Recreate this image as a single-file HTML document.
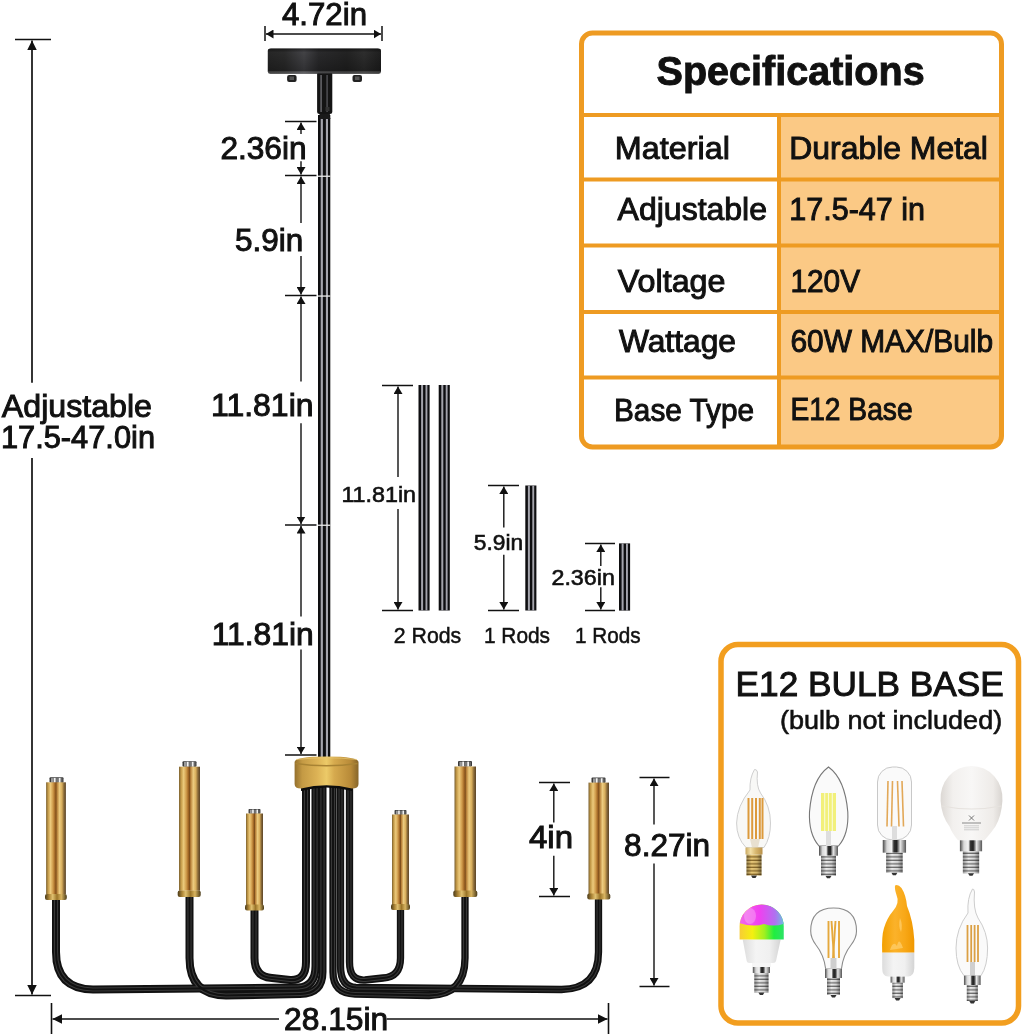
<!DOCTYPE html>
<html><head><meta charset="utf-8">
<style>
html,body{margin:0;padding:0;background:#fff;width:1024px;height:1035px;overflow:hidden}
svg{position:absolute;left:0;top:0;display:block;will-change:transform}
text{font-family:"Liberation Sans",sans-serif;fill:#111}
.b{font-weight:bold}
</style></head><body>
<svg width="1024" height="1035" viewBox="0 0 1024 1035">
<defs>
  <marker id="ah" viewBox="0 0 7.5 9" refX="7.5" refY="4.5" markerWidth="7.5" markerHeight="9" orient="auto-start-reverse" markerUnits="userSpaceOnUse">
    <path d="M0,0 L7.5,4.5 L0,9 z" fill="#111"/>
  </marker>
  <marker id="ahL" viewBox="0 0 9.5 9.5" refX="9.5" refY="4.75" markerWidth="9.5" markerHeight="9.5" orient="auto-start-reverse" markerUnits="userSpaceOnUse">
    <path d="M0,0 L9.5,4.75 L0,9.5 z" fill="#111"/>
  </marker>
</defs>
<rect width="1024" height="1035" fill="#fff"/>


<!-- CHANDELIER -->
<defs>
  <linearGradient id="brass" x1="0" x2="1" y1="0" y2="0">
    <stop offset="0" stop-color="#7a6030"/>
    <stop offset="0.1" stop-color="#c49a48"/>
    <stop offset="0.22" stop-color="#ecca7c"/>
    <stop offset="0.35" stop-color="#cf9a4a"/>
    <stop offset="0.45" stop-color="#a06524"/>
    <stop offset="0.5" stop-color="#80501c"/>
    <stop offset="0.56" stop-color="#ba843c"/>
    <stop offset="0.68" stop-color="#eccc80"/>
    <stop offset="0.8" stop-color="#d8ae5c"/>
    <stop offset="0.9" stop-color="#8a6a38"/>
    <stop offset="1" stop-color="#5a4428"/>
  </linearGradient>
  <linearGradient id="ring" x1="0" x2="1" y1="0" y2="0">
    <stop offset="0" stop-color="#4a3a18"/>
    <stop offset="0.2" stop-color="#b08838"/>
    <stop offset="0.35" stop-color="#e0c070"/>
    <stop offset="0.55" stop-color="#9a7428"/>
    <stop offset="0.75" stop-color="#d8b460"/>
    <stop offset="1" stop-color="#4a3a18"/>
  </linearGradient>
  <linearGradient id="hubg" x1="0" x2="1" y1="0" y2="0">
    <stop offset="0" stop-color="#94702c"/>
    <stop offset="0.12" stop-color="#c49a44"/>
    <stop offset="0.35" stop-color="#dcb255"/>
    <stop offset="0.5" stop-color="#ecca68"/>
    <stop offset="0.62" stop-color="#d6aa4e"/>
    <stop offset="0.88" stop-color="#b88a38"/>
    <stop offset="1" stop-color="#86652a"/>
  </linearGradient>
  <linearGradient id="canopyh" x1="0" x2="1" y1="0" y2="0">
    <stop offset="0" stop-color="#2a2a2a"/>
    <stop offset="0.15" stop-color="#303030"/>
    <stop offset="0.32" stop-color="#4a4a4e"/>
    <stop offset="0.45" stop-color="#2e2e30"/>
    <stop offset="0.7" stop-color="#262626"/>
    <stop offset="0.85" stop-color="#333"/>
    <stop offset="1" stop-color="#222"/>
  </linearGradient>
  <linearGradient id="canopyv" x1="0" x2="0" y1="0" y2="1">
    <stop offset="0" stop-color="#000" stop-opacity="0.5"/>
    <stop offset="0.15" stop-color="#000" stop-opacity="0.1"/>
    <stop offset="0.6" stop-color="#000" stop-opacity="0.25"/>
    <stop offset="0.88" stop-color="#000" stop-opacity="0.35"/>
    <stop offset="0.95" stop-color="#fff" stop-opacity="0.12"/>
    <stop offset="1" stop-color="#000" stop-opacity="0.2"/>
  </linearGradient>
  <g id="cap">
    <rect x="-7" y="0" width="14" height="5.5" rx="1" fill="#3a3a3a"/>
    <rect x="-5.5" y="0.8" width="2.4" height="4.7" fill="#9a9a9a"/>
    <rect x="-2.8" y="0.6" width="2" height="4.9" fill="#f4f4f4"/>
    <rect x="-0.4" y="0.8" width="2.4" height="4.7" fill="#777"/>
    <rect x="2.2" y="0.6" width="2" height="4.9" fill="#f0f0f0"/>
    <rect x="4.4" y="0.8" width="1.6" height="4.7" fill="#666"/>
  </g>
</defs>
<g id="chandelier">
  <!-- arms -->
  <g fill="none" stroke-linejoin="round">
    <g id="armsL" fill="none" stroke-linejoin="round">
      <path id="a3" d="M254.5,905 V958 Q254.5,977 272,978 L290,980 Q306,981 306,962 V785"/>
      <path id="a1" d="M56,895 V952 Q56,989 93,989.5 L298,987.5 Q315.5,987 315.5,966 V785"/>
      <path id="a2" d="M189.5,893 V958 Q189.5,995 226,995.5 L300,994 Q322.5,993.5 322.5,972 V785"/>
    </g>
    <g id="armsR" fill="none" stroke-linejoin="round">
      <path d="M400.5,905 V958 Q400.5,977 383,978 L365,980 Q349.5,981 349.5,962 V785"/>
      <path d="M598.5,895 V952 Q598.5,989 561.5,989.5 L356,987.5 Q340.5,987 340.5,966 V785"/>
      <path d="M465,893 V958 Q465,995 429,995.5 L355,994 Q333,993.5 333,972 V785"/>
    </g>
  </g>
  <use href="#armsL" stroke="#111" stroke-width="8"/>
  <use href="#armsL" stroke="#3a3a3a" stroke-width="4.2"/>
  <use href="#armsL" stroke="#111" stroke-width="2.1"/>
  <use href="#armsR" stroke="#111" stroke-width="7.3"/>
  <use href="#armsR" stroke="#3a3a3a" stroke-width="3.9"/>
  <use href="#armsR" stroke="#111" stroke-width="1.9"/>

  <!-- candles -->
  <g>
    <use href="#cap" x="56.5" y="777.3"/>
    <rect x="46.1" y="782.3" width="19.8" height="112" fill="url(#brass)"/>
    <rect x="45" y="894" width="21.8" height="6" rx="2" fill="url(#ring)"/>

    <use href="#cap" x="189.5" y="761.2"/>
    <rect x="179" y="766.7" width="21" height="124" fill="url(#brass)"/>
    <rect x="177.7" y="890.5" width="23" height="6.5" rx="2" fill="url(#ring)"/>

    <use href="#cap" x="254.5" y="809" transform="translate(254.5 809) scale(0.85) translate(-254.5 -809)"/>
    <rect x="246" y="813.5" width="17" height="92" fill="url(#brass)"/>
    <rect x="245" y="904.5" width="19" height="6" rx="2" fill="url(#ring)"/>

    <use href="#cap" x="400.5" y="810" transform="translate(400.5 810) scale(0.85) translate(-400.5 -810)"/>
    <rect x="392" y="814.5" width="17" height="90.5" fill="url(#brass)"/>
    <rect x="391" y="904" width="19" height="6" rx="2" fill="url(#ring)"/>

    <use href="#cap" x="465" y="761"/>
    <rect x="454.5" y="766.5" width="21.5" height="125" fill="url(#brass)"/>
    <rect x="453.3" y="890.5" width="24" height="6.5" rx="2" fill="url(#ring)"/>

    <use href="#cap" x="598.5" y="777.6"/>
    <rect x="588.5" y="782.6" width="20.5" height="112" fill="url(#brass)"/>
    <rect x="587.3" y="893.5" width="23" height="6" rx="2" fill="url(#ring)"/>
  </g>

  <!-- main rod -->
  <g>
    <rect x="318" y="115" width="12.3" height="645" fill="#0e0e10"/>
    <rect x="320.7" y="115" width="2.2" height="645" fill="#a4a4ac"/>
    <rect x="325.9" y="115" width="2.1" height="645" fill="#a4a4ac"/>
    <rect x="318" y="175.6" width="12.3" height="1.3" fill="#e8e8e8"/>
    <rect x="318" y="295.4" width="12.3" height="1.3" fill="#e8e8e8"/>
    <rect x="318" y="524.6" width="12.3" height="1.3" fill="#e8e8e8"/>
    <!-- stem -->
    <path d="M319,112 L330.5,112 L329.5,116 L330.5,119 L319,119 L319.8,116 Z" fill="#1a1a1a"/>
    <rect x="317.1" y="72" width="15.2" height="42" rx="2.5" fill="#141414"/>
    <rect x="320.2" y="75" width="1.8" height="37" fill="#5a5a5e"/>
    <rect x="326.3" y="75" width="1.6" height="37" fill="#4a4a4e"/>
    <rect x="325.5" y="107" width="4" height="4" fill="#333"/>
    <!-- canopy -->
    <path d="M267.8,51 Q267.8,48.6 271,48.6 L377.8,48.6 Q381,48.6 381,51 L381,71.5 Q381,73.8 378.5,73.8 L270.3,73.8 Q267.8,73.8 267.8,71.5 Z" fill="url(#canopyh)"/>
    <path d="M267.8,51 Q267.8,48.6 271,48.6 L377.8,48.6 Q381,48.6 381,51 L381,71.5 Q381,73.8 378.5,73.8 L270.3,73.8 Q267.8,73.8 267.8,71.5 Z" fill="url(#canopyv)"/>
    <rect x="287.1" y="75" width="9.5" height="7" rx="2" fill="#222"/>
    <rect x="289.5" y="76.5" width="4.5" height="3.5" fill="#555"/>
    <rect x="352.5" y="75" width="9.5" height="7" rx="2" fill="#222"/>
    <rect x="355" y="76.5" width="4.5" height="3.5" fill="#555"/>
    <!-- hub -->
    <path d="M301,791 Q326.5,784 352,791 L352,783 L301,783 Z" fill="#0c0c0c"/>
    <path d="M294.6,762 Q294.6,756.4 326.5,756.4 Q358.5,756.4 358.5,762 V784 Q358.5,788.6 352,788.6 Q326.5,782 301,788.6 Q294.6,788.6 294.6,784 Z" fill="url(#hubg)"/>
    <path d="M295.5,763.5 Q326.5,768 357.5,763.5" fill="none" stroke="#a88334" stroke-width="1.3"/>
    <path d="M296,759.5 Q326.5,756 357,759.5" fill="none" stroke="#e8c870" stroke-width="1" opacity="0.7"/>
  </g>
</g>


<!-- LOOSE RODS -->
<defs>
  <g id="rodpat">
    <rect x="0" y="0" width="11.2" height="1" fill="#111"/>
  </g>
</defs>
<g id="loose">
<g>
<rect x="418.5" y="385" width="11.1" height="225.5" fill="#0e0e10"/>
<rect x="421.1" y="385" width="2.0" height="225.5" fill="#a4a4ac"/>
<rect x="425.5" y="385" width="1.9" height="225.5" fill="#a4a4ac"/>
<rect x="438.7" y="385" width="11.1" height="225.5" fill="#0e0e10"/>
<rect x="441.3" y="385" width="2.0" height="225.5" fill="#a4a4ac"/>
<rect x="445.7" y="385" width="1.9" height="225.5" fill="#a4a4ac"/>
<rect x="525.3" y="485.5" width="11.1" height="125" fill="#0e0e10"/>
<rect x="527.9" y="485.5" width="2.0" height="125" fill="#a4a4ac"/>
<rect x="532.3" y="485.5" width="1.9" height="125" fill="#a4a4ac"/>
<rect x="619" y="543.4" width="11.1" height="67.2" fill="#0e0e10"/>
<rect x="621.6" y="543.4" width="2.0" height="67.2" fill="#a4a4ac"/>
<rect x="626.0" y="543.4" width="1.9" height="67.2" fill="#a4a4ac"/>
</g>
</g>

<!-- DIMENSIONS -->
<g id="dims" stroke="#111" fill="none">
<line x1="265" y1="26" x2="265" y2="41" stroke-width="1.5"/>
<line x1="382" y1="26" x2="382" y2="41" stroke-width="1.5"/>
<line x1="266" y1="34" x2="381" y2="34" stroke-width="1.6" marker-start="url(#ah)" marker-end="url(#ah)"/>
<line x1="15" y1="39.5" x2="51" y2="39.5" stroke-width="1.6"/>
<line x1="15" y1="995.5" x2="51" y2="995.5" stroke-width="1.6"/>
<line x1="32" y1="40.5" x2="32" y2="382.7" stroke-width="1.7" marker-start="url(#ahL)"/>
<line x1="32" y1="458" x2="32" y2="994.5" stroke-width="1.7" marker-end="url(#ahL)"/>
<line x1="51.5" y1="1003" x2="51.5" y2="1034" stroke-width="1.6"/>
<line x1="608.5" y1="1003" x2="608.5" y2="1034" stroke-width="1.6"/>
<line x1="52.5" y1="1019" x2="279" y2="1019" stroke-width="1.6" marker-start="url(#ahL)"/>
<line x1="386.7" y1="1019" x2="607.5" y2="1019" stroke-width="1.6" marker-end="url(#ahL)"/>
<line x1="285" y1="121.5" x2="316.5" y2="121.5" stroke-width="1.5"/>
<line x1="285" y1="175.5" x2="316.5" y2="175.5" stroke-width="1.5"/>
<line x1="285" y1="295.5" x2="316.5" y2="295.5" stroke-width="1.5"/>
<line x1="285" y1="525" x2="316.5" y2="525" stroke-width="1.5"/>
<line x1="285" y1="755" x2="316.5" y2="755" stroke-width="1.5"/>
<line x1="301" y1="122.5" x2="301" y2="134" stroke-width="1.4" marker-start="url(#ah)"/>
<line x1="301" y1="161.2" x2="301" y2="174.5" stroke-width="1.4" marker-end="url(#ah)"/>
<line x1="301" y1="176.5" x2="301" y2="223" stroke-width="1.4" marker-start="url(#ah)"/>
<line x1="301" y1="255.9" x2="301" y2="294.5" stroke-width="1.4" marker-end="url(#ah)"/>
<line x1="301" y1="296.5" x2="301" y2="381.6" stroke-width="1.4" marker-start="url(#ah)"/>
<line x1="301" y1="423.3" x2="301" y2="524" stroke-width="1.4" marker-end="url(#ah)"/>
<line x1="301" y1="526" x2="301" y2="616.5" stroke-width="1.4" marker-start="url(#ah)"/>
<line x1="301" y1="649.6" x2="301" y2="754" stroke-width="1.4" marker-end="url(#ah)"/>
<line x1="382" y1="385.5" x2="413" y2="385.5" stroke-width="1.5"/>
<line x1="382" y1="610.5" x2="413" y2="610.5" stroke-width="1.5"/>
<line x1="398" y1="386.5" x2="398" y2="477" stroke-width="1.4" marker-start="url(#ah)"/>
<line x1="398" y1="509" x2="398" y2="609.5" stroke-width="1.4" marker-end="url(#ah)"/>
<line x1="488" y1="485.5" x2="519" y2="485.5" stroke-width="1.5"/>
<line x1="488" y1="610.5" x2="519" y2="610.5" stroke-width="1.5"/>
<line x1="503.8" y1="486.5" x2="503.8" y2="527.5" stroke-width="1.4" marker-start="url(#ah)"/>
<line x1="503.8" y1="554.7" x2="503.8" y2="609.5" stroke-width="1.4" marker-end="url(#ah)"/>
<line x1="585" y1="543.5" x2="615" y2="543.5" stroke-width="1.5"/>
<line x1="585" y1="610.5" x2="615" y2="610.5" stroke-width="1.5"/>
<line x1="600.8" y1="544.5" x2="600.8" y2="566" stroke-width="1.4" marker-start="url(#ah)"/>
<line x1="600.8" y1="587.2" x2="600.8" y2="609.5" stroke-width="1.4" marker-end="url(#ah)"/>
<line x1="539" y1="782.5" x2="570" y2="782.5" stroke-width="1.5"/>
<line x1="539" y1="896.5" x2="570" y2="896.5" stroke-width="1.5"/>
<line x1="553.8" y1="783.5" x2="553.8" y2="822.5" stroke-width="1.4" marker-start="url(#ah)"/>
<line x1="553.8" y1="855.7" x2="553.8" y2="895.5" stroke-width="1.4" marker-end="url(#ah)"/>
<line x1="639.5" y1="777.5" x2="669.5" y2="777.5" stroke-width="1.5"/>
<line x1="639.5" y1="986.5" x2="669.5" y2="986.5" stroke-width="1.5"/>
<line x1="654" y1="778.5" x2="654" y2="824.5" stroke-width="1.4" marker-start="url(#ah)"/>
<line x1="654" y1="863.5" x2="654" y2="985.5" stroke-width="1.4" marker-end="url(#ah)"/>
</g>

<!-- SPEC TABLE -->
<g id="table">
  <rect x="778" y="115" width="223" height="330" fill="#FBC985"/>
  <rect x="581.5" y="33" width="420" height="414" rx="11" fill="none" stroke="#EE9B22" stroke-width="5"/>
  <g stroke="#EE9B22" stroke-width="4">
    <line x1="582" y1="115" x2="1001" y2="115"/>
    <line x1="582" y1="179.5" x2="1001" y2="179.5"/>
    <line x1="582" y1="245.5" x2="1001" y2="245.5"/>
    <line x1="582" y1="312" x2="1001" y2="312"/>
    <line x1="582" y1="377.5" x2="1001" y2="377.5"/>
    <line x1="779" y1="115" x2="779" y2="445"/>
  </g>
</g>

<!-- BULB BOX -->
<g id="bulbbox">
  <rect x="721" y="644.5" width="297.5" height="378.5" rx="17" fill="#fff" stroke="#F29E1F" stroke-width="5.5"/>
</g>


<!-- BULBS START -->
<defs>
  <linearGradient id="chrome" x1="0" x2="1" y1="0" y2="0">
    <stop offset="0" stop-color="#4a4a4a"/>
    <stop offset="0.18" stop-color="#d8d8d8"/>
    <stop offset="0.38" stop-color="#f4f4f4"/>
    <stop offset="0.48" stop-color="#333"/>
    <stop offset="0.6" stop-color="#222"/>
    <stop offset="0.75" stop-color="#e8e8e8"/>
    <stop offset="1" stop-color="#555"/>
  </linearGradient>
  <linearGradient id="chromeg" x1="0" x2="1" y1="0" y2="0">
    <stop offset="0" stop-color="#c9a860"/>
    <stop offset="0.3" stop-color="#f3e0a8"/>
    <stop offset="0.6" stop-color="#d8b870"/>
    <stop offset="1" stop-color="#b89048"/>
  </linearGradient>
  <pattern id="thread" x="0" y="0" width="10" height="3.5" patternUnits="userSpaceOnUse">
    <rect width="10" height="3.5" fill="#ececec"/>
    <rect y="2.2" width="10" height="1.3" fill="#6e6e6e"/>
  </pattern>
  <pattern id="threadg" x="0" y="0" width="10" height="3.5" patternUnits="userSpaceOnUse">
    <rect width="10" height="3.5" fill="#e8c878"/>
    <rect y="2.2" width="10" height="1.3" fill="#8a6a2a"/>
  </pattern>
  <linearGradient id="screwshade" x1="0" x2="1" y1="0" y2="0">
    <stop offset="0" stop-color="#000" stop-opacity="0.35"/>
    <stop offset="0.35" stop-color="#000" stop-opacity="0"/>
    <stop offset="0.7" stop-color="#000" stop-opacity="0.1"/>
    <stop offset="1" stop-color="#000" stop-opacity="0.45"/>
  </linearGradient>
  <linearGradient id="globeg" x1="0" x2="1" y1="0" y2="0">
    <stop offset="0" stop-color="#dcd8d4"/>
    <stop offset="0.2" stop-color="#f2f0ee"/>
    <stop offset="0.5" stop-color="#f8f7f6"/>
    <stop offset="0.85" stop-color="#eeebe8"/>
    <stop offset="1" stop-color="#d8d4d0"/>
  </linearGradient>
  <linearGradient id="whitebody" x1="0" x2="1" y1="0" y2="0">
    <stop offset="0" stop-color="#dcdcdc"/>
    <stop offset="0.35" stop-color="#f4f4f4"/>
    <stop offset="0.7" stop-color="#f0f0f0"/>
    <stop offset="1" stop-color="#d4d4d4"/>
  </linearGradient>
  <linearGradient id="rgbband" x1="0" x2="1" y1="0" y2="0">
    <stop offset="0" stop-color="#f8c83a"/>
    <stop offset="0.3" stop-color="#f4f010"/>
    <stop offset="0.55" stop-color="#a0f020"/>
    <stop offset="0.75" stop-color="#20ee40"/>
    <stop offset="1" stop-color="#30e070"/>
  </linearGradient>
  <linearGradient id="rgbtop" x1="0" x2="1" y1="0" y2="0">
    <stop offset="0" stop-color="#f070e8"/>
    <stop offset="0.45" stop-color="#f040f0"/>
    <stop offset="0.75" stop-color="#b070f0"/>
    <stop offset="1" stop-color="#50e0d8"/>
  </linearGradient>
  <linearGradient id="rgbfade" x1="0" x2="0" y1="0" y2="1">
    <stop offset="0" stop-color="#fff" stop-opacity="0"/>
    <stop offset="1" stop-color="#fff" stop-opacity="1"/>
  </linearGradient>
  <linearGradient id="flameg" x1="0" x2="1" y1="0" y2="0">
    <stop offset="0" stop-color="#f3a000"/>
    <stop offset="0.4" stop-color="#fbb22a"/>
    <stop offset="0.7" stop-color="#f8a818"/>
    <stop offset="1" stop-color="#f09800"/>
  </linearGradient>
</defs>
<g id="bulbs">
<path d="M754.5,769.5 Q749.5,778 750,790 Q737,806 736.6,823 Q736.6,838 746,847.5 L764,847.5 Q770.5,838 770.5,823 Q770.5,806 760.5,793 Q756,786 757.5,772 Q756.5,769 754.5,769.5 Z" fill="#f8f8f6" stroke="#cfcfcf" stroke-width="1"/>
<line x1="748.5" y1="798" x2="748.5" y2="839" stroke="#dc9a3c" stroke-width="2.0"/>
<line x1="752.2" y1="798" x2="752.2" y2="839" stroke="#dc9a3c" stroke-width="2.0"/>
<line x1="756" y1="798" x2="756" y2="839" stroke="#dc9a3c" stroke-width="2.0"/>
<line x1="759.8" y1="798" x2="759.8" y2="839" stroke="#dc9a3c" stroke-width="2.0"/>
<line x1="762.5" y1="798" x2="762.5" y2="839" stroke="#dc9a3c" stroke-width="2.0"/>
<path d="M750,839 L760,839 L758,847.5 L752,847.5 Z" fill="#e8e0d0"/>
<rect x="745.50" y="847.50" width="17.00" height="7.00" fill="url(#chromeg)"/>
<rect x="746.50" y="854.50" width="15.00" height="21.00" fill="url(#threadg)"/>
<rect x="746.50" y="854.50" width="15.00" height="21.00" fill="url(#screwshade)"/>
<path d="M751.00,875.50 L757.00,875.50 L755.50,878.00 L752.50,878.00 Z" fill="#333"/>
<path d="M828.5,767 Q845,779 847.8,812 Q849,834 838.5,846 L819,846 Q808.5,834 809.5,812 Q812,779 828.5,767 Z" fill="#fafafa" stroke="#777" stroke-width="1.1"/>
<rect x="821" y="793" width="15" height="38" fill="#f2f07a"/>
<g stroke="#fafad8" stroke-width="1.1"><line x1="824.7" y1="793" x2="824.7" y2="831"/><line x1="828.5" y1="793" x2="828.5" y2="831"/><line x1="832.3" y1="793" x2="832.3" y2="831"/></g>
<rect x="826" y="831" width="5" height="15" fill="#dedede"/>
<rect x="819.00" y="846.00" width="19.00" height="9.70" fill="url(#chrome)"/>
<rect x="821.00" y="855.70" width="15.00" height="20.00" fill="url(#thread)"/>
<rect x="821.00" y="855.70" width="15.00" height="20.00" fill="url(#screwshade)"/>
<path d="M825.50,875.70 L831.50,875.70 L830.00,878.20 L827.00,878.20 Z" fill="#333"/>
<rect x="877.5" y="767" width="34" height="73" rx="15" fill="#fafafa" stroke="#c8c8c8" stroke-width="1"/>
<line x1="888" y1="781" x2="887" y2="826.5" stroke="#e2a858" stroke-width="1.6"/>
<line x1="892.5" y1="781" x2="891.5" y2="826.5" stroke="#e2a858" stroke-width="1.6"/>
<line x1="897.5" y1="781" x2="899" y2="826.5" stroke="#e2a858" stroke-width="1.6"/>
<line x1="902" y1="781" x2="903.5" y2="826.5" stroke="#e2a858" stroke-width="1.6"/>
<rect x="892" y="826" width="5" height="14" fill="#ddd"/>
<rect x="882.75" y="840.00" width="23.30" height="12.70" fill="url(#chrome)"/>
<rect x="886.15" y="852.70" width="16.50" height="20.00" fill="url(#thread)"/>
<rect x="886.15" y="852.70" width="16.50" height="20.00" fill="url(#screwshade)"/>
<path d="M891.40,872.70 L897.40,872.70 L895.90,875.20 L892.90,875.20 Z" fill="#333"/>
<path d="M958,840.3 Q952,833 949.5,826.4 Q941.5,816 940.6,801 A31,32.5 0 1 1 1002.4,801 Q1001.5,816 995.4,826.4 Q991,833 984.5,840.3 Z" fill="url(#globeg)"/>
<path d="M941.5,806 Q971.5,812 1001.5,806" fill="none" stroke="#e6e2de" stroke-width="1.2"/>
<g><path d="M969,815.5 L974,820.5 M974,815.5 L969,820.5" stroke="#666" stroke-width="0.9"/><rect x="962" y="822.5" width="19" height="1" fill="#888"/><rect x="964" y="825.5" width="15" height="0.7" fill="#bbb"/><rect x="964" y="827.5" width="15" height="0.7" fill="#bbb"/><rect x="964" y="829.5" width="15" height="0.7" fill="#bbb"/></g>
<rect x="959.90" y="840.30" width="22.20" height="11.00" fill="url(#chrome)"/>
<rect x="962.85" y="851.30" width="16.30" height="22.00" fill="url(#thread)"/>
<rect x="962.85" y="851.30" width="16.30" height="22.00" fill="url(#screwshade)"/>
<path d="M968.00,873.30 L974.00,873.30 L972.50,875.80 L969.50,875.80 Z" fill="#333"/>
<path d="M742.7,939.6 L780.7,939.6 L776,961 Q775.6,963 773,963 L749.5,963 Q747,963 746.7,961 Z" fill="url(#whitebody)"/>
<clipPath id="rgbclip"><path d="M739.6,939.6 L739.6,927.6 A22.1,22 0 1 1 783.75,927.6 L783.75,939.6 Z"/></clipPath>
<g clip-path="url(#rgbclip)"><rect x="738" y="904" width="48" height="36" fill="url(#rgbband)"/><path d="M736,903 L788,903 L788,922 Q776,928 764,924 Q752,928 736,922 Z" fill="url(#rgbtop)"/><ellipse cx="750" cy="916" rx="6" ry="8" fill="#fff" opacity="0.25"/></g>
<rect x="752.80" y="967.00" width="17.20" height="6.00" fill="url(#chrome)"/>
<rect x="754.30" y="973.00" width="14.20" height="19.50" fill="url(#thread)"/>
<rect x="754.30" y="973.00" width="14.20" height="19.50" fill="url(#screwshade)"/>
<path d="M758.40,992.50 L764.40,992.50 L762.90,995.00 L759.90,995.00 Z" fill="#333"/>
<rect x="752" y="963" width="19" height="4" fill="#f6f6f6"/>
<path d="M825.7,969 Q824,955 816,945 Q810.7,938 810.7,931 Q810.7,908 833.6,908 Q856.5,908 856.5,931 Q856.5,938 851,945 Q843,955 841.4,969 Z" fill="#fafafa" stroke="#8c8c8c" stroke-width="1.1"/>
<line x1="828.5" y1="921" x2="828.5" y2="958" stroke="#e5a83c" stroke-width="1.9"/>
<line x1="835.5" y1="921" x2="833" y2="958" stroke="#e5a83c" stroke-width="1.9"/>
<line x1="831.5" y1="921" x2="834" y2="958" stroke="#e5a83c" stroke-width="1.9"/>
<line x1="839" y1="921" x2="839" y2="958" stroke="#e5a83c" stroke-width="1.9"/>
<rect x="830.5" y="958" width="6" height="11" fill="#cfcfcf"/>
<rect x="825.00" y="969.00" width="17.00" height="9.00" fill="url(#chrome)"/>
<rect x="827.00" y="978.00" width="13.00" height="17.00" fill="url(#thread)"/>
<rect x="827.00" y="978.00" width="13.00" height="17.00" fill="url(#screwshade)"/>
<path d="M830.50,995.00 L836.50,995.00 L835.00,997.50 L832.00,997.50 Z" fill="#333"/>
<path d="M882.2,952.5 L914.3,952.5 L914.3,968 Q914,976.6 908,976.6 L888,976.6 Q882.2,976.6 882.2,968 Z" fill="url(#whitebody)"/>
<path d="M882.2,952.5 Q881.5,936 884,928 Q887,918 893,911 Q900,903 896.5,895 Q894.5,889 895,885.5 Q898,884 901.5,888 Q906,895 907,906 Q913,920 914.3,940 L914.3,952.5 Z" fill="url(#flameg)"/>
<g fill="#ffd070" opacity="0.7"><path d="M890,950 Q893,940 897,946 Q899,936 903,948 Z"/><path d="M900,918 Q903,925 901,932 Q898,926 900,918 Z"/></g>
<rect x="890.60" y="976.60" width="14.00" height="6.10" fill="url(#chrome)"/>
<rect x="892.35" y="982.70" width="10.50" height="15.40" fill="url(#thread)"/>
<rect x="892.35" y="982.70" width="10.50" height="15.40" fill="url(#screwshade)"/>
<path d="M894.60,998.10 L900.60,998.10 L899.10,1000.60 L896.10,1000.60 Z" fill="#333"/>
<path d="M972.5,889 Q967,898 968,913 Q956,929 956,948 Q956,966 964,975.7 L981,975.7 Q987.6,966 987.6,948 Q987.6,932 978,918 Q973,909 974.5,892 Q974,888.5 972.5,889 Z" fill="#fafafa" stroke="#cdcdcd" stroke-width="1"/>
<line x1="967.5" y1="925" x2="967.5" y2="962" stroke="#dba044" stroke-width="1.8"/>
<line x1="971.2" y1="925" x2="971.2" y2="962" stroke="#dba044" stroke-width="1.8"/>
<line x1="974.6" y1="925" x2="974.6" y2="962" stroke="#dba044" stroke-width="1.8"/>
<line x1="978" y1="925" x2="978" y2="962" stroke="#dba044" stroke-width="1.8"/>
<rect x="970" y="962" width="5" height="13.7" fill="#cfcfcf"/>
<rect x="963.95" y="975.70" width="16.70" height="9.30" fill="url(#chrome)"/>
<rect x="966.80" y="985.00" width="11.00" height="16.00" fill="url(#thread)"/>
<rect x="966.80" y="985.00" width="11.00" height="16.00" fill="url(#screwshade)"/>
<path d="M969.30,1001.00 L975.30,1001.00 L973.80,1003.50 L970.80,1003.50 Z" fill="#333"/>
</g>
<!-- BULBS END -->


<!-- TEXTS START -->
<g id="texts" fill="#111" stroke="#111">
<text x="282.00" y="24.9" font-size="31.5" stroke-width="1.0" textLength="85.01" lengthAdjust="spacingAndGlyphs">4.72in</text>
<text x="220.40" y="159.3" font-size="31.5" stroke-width="1.0" textLength="86.14" lengthAdjust="spacingAndGlyphs">2.36in</text>
<text x="235.10" y="251" font-size="31.5" stroke-width="1.0" textLength="68.24" lengthAdjust="spacingAndGlyphs">5.9in</text>
<text x="211.00" y="415.8" font-size="31.5" stroke-width="1.0" textLength="102.52" lengthAdjust="spacingAndGlyphs">11.81in</text>
<text x="211.70" y="645.2" font-size="31.5" stroke-width="1.0" textLength="102.05" lengthAdjust="spacingAndGlyphs">11.81in</text>
<text x="1.80" y="416.9" font-size="32" stroke-width="1.0" textLength="150.21" lengthAdjust="spacingAndGlyphs">Adjustable</text>
<text x="0.90" y="448.3" font-size="31.5" stroke-width="1.0" textLength="154.15" lengthAdjust="spacingAndGlyphs">17.5-47.0in</text>
<text x="284.10" y="1030" font-size="31.5" stroke-width="1.0" textLength="104.12" lengthAdjust="spacingAndGlyphs">28.15in</text>
<text x="529.00" y="848" font-size="31.5" stroke-width="1.0" textLength="44.07" lengthAdjust="spacingAndGlyphs">4in</text>
<text x="624.10" y="855.7" font-size="31.5" stroke-width="1.0" textLength="86.11" lengthAdjust="spacingAndGlyphs">8.27in</text>
<text x="341.40" y="501.8" font-size="22" stroke-width="0.6" textLength="74.69" lengthAdjust="spacingAndGlyphs">11.81in</text>
<text x="473.80" y="549.8" font-size="22" stroke-width="0.6" textLength="49.28" lengthAdjust="spacingAndGlyphs">5.9in</text>
<text x="551.50" y="585" font-size="22" stroke-width="0.6" textLength="63.31" lengthAdjust="spacingAndGlyphs">2.36in</text>
<text x="393.80" y="643.4" font-size="22.5" stroke-width="0.5" textLength="67.44" lengthAdjust="spacingAndGlyphs">2 Rods</text>
<text x="483.90" y="643.4" font-size="22.5" stroke-width="0.5" textLength="66.16" lengthAdjust="spacingAndGlyphs">1 Rods</text>
<text x="575.00" y="643.4" font-size="22.5" stroke-width="0.5" textLength="65.64" lengthAdjust="spacingAndGlyphs">1 Rods</text>
<text x="656.60" y="84.5" font-size="40.5" font-weight="bold" stroke-width="0.9" textLength="268.03" lengthAdjust="spacingAndGlyphs">Specifications</text>
<text x="614.80" y="159" font-size="32" stroke-width="1.0" textLength="115.03" lengthAdjust="spacingAndGlyphs">Material</text>
<text x="617.60" y="219.6" font-size="32" stroke-width="1.0" textLength="149.41" lengthAdjust="spacingAndGlyphs">Adjustable</text>
<text x="617.80" y="292" font-size="32" stroke-width="1.0" textLength="107.73" lengthAdjust="spacingAndGlyphs">Voltage</text>
<text x="618.90" y="352.3" font-size="32" stroke-width="1.0" textLength="117.11" lengthAdjust="spacingAndGlyphs">Wattage</text>
<text x="614.00" y="420.8" font-size="32" stroke-width="1.0" textLength="140.07" lengthAdjust="spacingAndGlyphs">Base Type</text>
<text x="789.25" y="159.3" font-size="32" stroke-width="1.0" textLength="198.62" lengthAdjust="spacingAndGlyphs">Durable Metal</text>
<text x="789.25" y="219.6" font-size="32" stroke-width="1.0" textLength="135.82" lengthAdjust="spacingAndGlyphs">17.5-47 in</text>
<text x="790.40" y="291.9" font-size="32" stroke-width="1.0" textLength="69.67" lengthAdjust="spacingAndGlyphs">120V</text>
<text x="790.40" y="352" font-size="32" stroke-width="1.0" textLength="202.73" lengthAdjust="spacingAndGlyphs">60W MAX/Bulb</text>
<text x="790.40" y="419.7" font-size="32" stroke-width="1.0" textLength="122.17" lengthAdjust="spacingAndGlyphs">E12 Base</text>
<text x="735.60" y="696" font-size="35.5" stroke-width="1.0" textLength="268.15" lengthAdjust="spacingAndGlyphs">E12 BULB BASE</text>
<text x="780.00" y="728.7" font-size="26" stroke-width="0.6" textLength="222.15" lengthAdjust="spacingAndGlyphs">(bulb not included)</text>
</g>
<!-- TEXTS END -->
</svg>
</body></html>
